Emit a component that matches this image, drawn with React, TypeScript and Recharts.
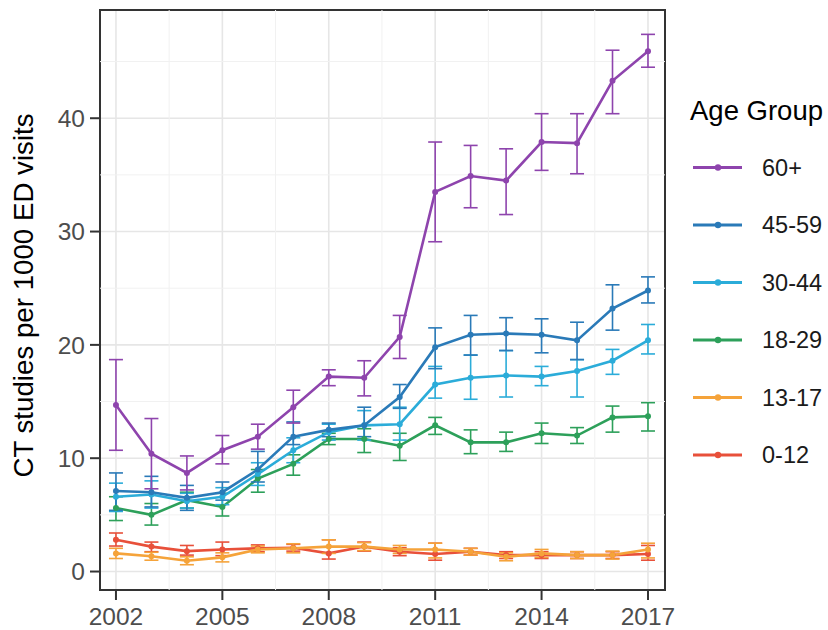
import React from 'react';
import {
  ComposedChart,
  Line,
  ErrorBar,
  XAxis,
  YAxis,
  CartesianGrid,
  ReferenceLine,
  ReferenceArea,
  Legend,
} from 'recharts';

const FONT = '"Liberation Sans", Arial, Helvetica, sans-serif';

const years = [2002, 2003, 2004, 2005, 2006, 2007, 2008, 2009, 2010, 2011, 2012, 2013, 2014, 2015, 2016, 2017];
const xTicks = [2002, 2005, 2008, 2011, 2014, 2017];
const yTicks = [0, 10, 20, 30, 40];
const xMinor = [2003.5, 2006.5, 2009.5, 2012.5, 2015.5];
const yMinor = [5, 15, 25, 35, 45];

const groups = ['60+', '45-59', '30-44', '18-29', '13-17', '0-12'];
const colors = ['#8E44AD', '#2A7AB8', '#2BACD9', '#2DA05A', '#F5A33A', '#E8503A'];

// 60+
const mean60 = [14.7, 10.4, 8.7, 10.7, 11.9, 14.5, 17.2, 17.1, 20.7, 33.5, 34.9, 34.5, 37.9, 37.8, 43.3, 45.9];
const low60 = [10.7, 7.3, 7.2, 9.5, 10.8, 13.1, 16.4, 15.5, 18.8, 29.1, 32.1, 31.5, 35.4, 35.1, 40.4, 44.5];
const high60 = [18.7, 13.5, 10.2, 12.0, 13.0, 16.0, 17.8, 18.6, 22.6, 37.9, 37.6, 37.3, 40.4, 40.4, 46.0, 47.4];

// 45-59
const mean45 = [7.1, 7.0, 6.5, 7.0, 9.0, 11.9, 12.5, 12.9, 15.4, 19.8, 20.9, 21.0, 20.9, 20.4, 23.2, 24.8];
const low45 = [5.4, 5.7, 5.4, 6.3, 7.9, 11.2, 11.9, 11.9, 14.4, 17.9, 19.1, 19.5, 19.3, 18.7, 21.3, 23.7];
const high45 = [8.7, 8.4, 7.6, 7.9, 10.6, 13.2, 13.1, 14.5, 16.5, 21.5, 22.6, 22.4, 22.3, 22.0, 25.3, 26.0];

// 30-44
const mean30 = [6.6, 6.8, 6.2, 6.6, 8.6, 10.7, 12.3, 12.9, 13.0, 16.5, 17.1, 17.3, 17.2, 17.7, 18.6, 20.4];
const low30 = [5.3, 5.6, 5.6, 5.9, 7.6, 9.6, 11.6, 11.6, 11.6, 15.3, 15.2, 15.4, 16.4, 15.4, 17.4, 19.2];
const high30 = [7.8, 8.0, 6.9, 7.4, 9.6, 11.8, 13.0, 14.2, 14.5, 18.1, 19.1, 19.5, 18.1, 18.7, 19.6, 21.8];

// 18-29
const mean18 = [5.6, 5.0, 6.3, 5.7, 8.2, 9.5, 11.7, 11.7, 11.1, 12.9, 11.4, 11.4, 12.2, 12.0, 13.6, 13.7];
const low18 = [4.5, 4.1, 5.6, 4.9, 7.0, 8.5, 11.2, 10.5, 9.8, 12.1, 10.4, 10.6, 11.3, 11.3, 12.3, 12.4];
const high18 = [6.6, 6.0, 7.0, 6.9, 9.0, 10.3, 12.2, 12.6, 12.2, 13.6, 12.5, 12.3, 13.1, 12.7, 14.6, 14.9];

// 13-17
const mean13 = [1.6, 1.35, 0.95, 1.25, 1.95, 2.05, 2.2, 2.2, 1.95, 1.95, 1.75, 1.3, 1.6, 1.45, 1.45, 1.95];
const low13 = [1.15, 1.0, 0.6, 0.85, 1.65, 1.65, 1.6, 1.85, 1.6, 1.2, 1.45, 0.95, 1.25, 1.15, 1.1, 1.2];
const high13 = [2.05, 1.7, 1.3, 1.65, 2.25, 2.45, 2.8, 2.55, 2.3, 2.5, 2.05, 1.65, 1.95, 1.75, 1.8, 2.5];

// 0-12
const mean0 = [2.8, 2.2, 1.8, 1.95, 2.05, 2.1, 1.6, 2.2, 1.75, 1.55, 1.75, 1.45, 1.45, 1.45, 1.45, 1.55];
const low0 = [2.25, 1.75, 1.45, 1.4, 1.75, 1.8, 1.1, 1.8, 1.4, 1.0, 1.45, 1.15, 1.15, 1.15, 1.15, 1.0];
const high0 = [3.4, 2.6, 2.3, 2.6, 2.35, 2.4, 2.8, 2.6, 2.1, 2.5, 2.05, 1.75, 1.75, 1.75, 1.75, 2.3];

const means = [mean60, mean45, mean30, mean18, mean13, mean0];
const lows = [low60, low45, low30, low18, low13, low0];
const highs = [high60, high45, high30, high18, high13, high0];

const data = years.map((year, i) => {
  const row: Record<string, any> = { year };
  groups.forEach((_, g) => {
    const v = means[g][i];
    row[`g${g}`] = v;
    row[`g${g}e`] = [+(v - lows[g][i]).toFixed(3), +(highs[g][i] - v).toFixed(3)];
  });
  return row;
});

const X_DOMAIN: [number, number] = [2001.55, 2017.48];
const Y_DOMAIN: [number, number] = [-1.63, 49.55];

const YTitle = (props: any) => {
  const vb = props.viewBox || { y: 0, height: 0 };
  const cx = 23;
  const cy = vb.y + vb.height / 2 - 4.5;
  return (
    <text
      x={cx}
      y={cy}
      transform={`rotate(-90, ${cx}, ${cy})`}
      textAnchor="middle"
      dominantBaseline="central"
      fontSize={27.7}
      fontFamily={FONT}
      fill="#000"
    >
      CT studies per 1000 ED visits
    </text>
  );
};

const LegendBox = () => (
  <svg width={163} height={610} style={{ display: 'block' }}>
    <text x={25} y={120} fontSize={27.5} fontFamily={FONT} fill="#000">
      Age Group
    </text>
    {groups.map((g, i) => {
      const cy = 167.5 + i * 57.5;
      return (
        <g key={g}>
          <line x1={28} x2={77} y1={cy} y2={cy} stroke={colors[i]} strokeWidth={3} />
          <circle cx={53} cy={cy} r={3.2} fill={colors[i]} />
          <text x={97} y={cy} dominantBaseline="central" fontSize={23.5} fontFamily={FONT} fill="#1a1a1a">
            {g}
          </text>
        </g>
      );
    })}
  </svg>
);

export default function App() {
  const order = [5, 4, 3, 2, 1, 0];
  return (
    <div style={{ width: 828, height: 630, fontFamily: FONT, overflow: 'hidden' }}>
      <style>{`html,body{margin:0;padding:0;overflow:hidden;}`}</style>
      <ComposedChart width={828} height={630} data={data} margin={{ top: 10, right: 0, bottom: 0, left: 0 }}>
        <CartesianGrid stroke="#E6E6E6" strokeWidth={1.6} />
        {xMinor.map((x) => (
          <ReferenceLine key={`vx${x}`} x={x} stroke="#F1F1F1" strokeWidth={1} />
        ))}
        {yMinor.map((y) => (
          <ReferenceLine key={`hy${y}`} y={y} stroke="#F1F1F1" strokeWidth={1} />
        ))}
        <XAxis
          dataKey="year"
          type="number"
          domain={X_DOMAIN}
          allowDataOverflow
          ticks={xTicks}
          height={40}
          axisLine={false}
          tickLine={{ stroke: '#333', strokeWidth: 2 }}
          tickSize={10}
          tickMargin={8}
          tick={{ fill: '#4D4D4D', fontSize: 24.5, fontFamily: FONT }}
        />
        <YAxis
          type="number"
          domain={Y_DOMAIN}
          allowDataOverflow
          ticks={yTicks}
          width={100}
          axisLine={false}
          tickLine={{ stroke: '#333', strokeWidth: 2 }}
          tickSize={10}
          tickMargin={5}
          tick={{ fill: '#4D4D4D', fontSize: 24.5, fontFamily: FONT }}
          label={{ content: YTitle }}
        />
        {order.map((g) => (
          <Line
            key={groups[g]}
            dataKey={`g${g}`}
            name={groups[g]}
            type="linear"
            stroke={colors[g]}
            strokeWidth={2.6}
            dot={{ r: 3, fill: colors[g], stroke: colors[g], strokeWidth: 0 }}
            activeDot={false}
            isAnimationActive={false}
          >
            <ErrorBar dataKey={`g${g}e`} direction="y" width={7} stroke={colors[g]} strokeWidth={1.6} />
          </Line>
        ))}
        <ReferenceArea
          x1={X_DOMAIN[0]}
          x2={X_DOMAIN[1]}
          y1={Y_DOMAIN[0]}
          y2={Y_DOMAIN[1]}
          fill="none"
          fillOpacity={0}
          stroke="#333"
          strokeWidth={2}
          ifOverflow="visible"
        />
        <Legend
          layout="vertical"
          align="right"
          verticalAlign="top"
          wrapperStyle={{ width: 163, height: 610, top: 0, right: 0 }}
          content={() => <LegendBox />}
        />
      </ComposedChart>
    </div>
  );
}
